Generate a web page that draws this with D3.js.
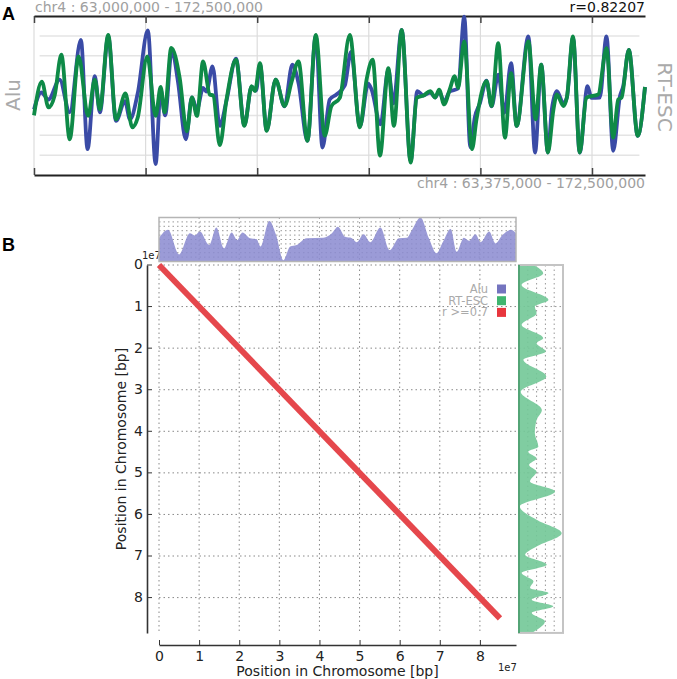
<!DOCTYPE html>
<html><head><meta charset="utf-8">
<script src="https://cdn.jsdelivr.net/npm/d3@7"></script>
<style>body{margin:0;background:#fff}svg{display:block;font-family:"DejaVu Sans",sans-serif}</style>
</head><body><div id="chart"></div>
<script>
// ---- panel A: smoothed tracks along chr4, [position Mb, z-score] ----
var ALU_TRACK = [[63.0,-0.7],[64.3,0.15],[65.6,-0.2],[67.6,0.8],[69.4,-0.85],[71.4,2.8],[72.6,-2.7],[73.9,0.97],[74.8,-0.85],[76.3,2.97],[77.7,-1.28],[79.3,-0.28],[80.2,-1.2],[81.6,0.13],[83.4,3.27],[84.8,-3.45],[85.7,0.3],[86.5,-1.0],[87.7,2.3],[88.8,0.7],[90.2,-2.2],[91.3,-0.1],[92.2,-0.7],[93.3,0.38],[93.9,0.2],[95.0,1.47],[96.3,-1.53],[97.5,-0.25],[99.2,1.85],[100.7,-1.5],[102.0,0.45],[102.8,0.25],[103.5,1.55],[104.7,-1.75],[106.3,0.8],[107.9,-0.55],[109.3,1.55],[110.4,0.63],[112.0,-2.28],[113.5,3.0],[114.7,-2.62],[116.0,-0.2],[117.2,0.05],[118.7,0.5],[119.8,2.2],[121.4,-1.55],[122.9,0.6],[123.5,0.3],[125.1,-1.45],[126.5,1.3],[127.4,-0.4],[128.9,3.3],[130.5,-3.3],[131.7,0.22],[132.8,0.0],[134.0,0.15],[134.9,-0.1],[135.6,0.2],[136.5,-0.3],[137.5,0.2],[139.0,0.35],[140.1,3.97],[141.2,-2.6],[142.0,-1.1],[142.9,-0.4],[144.1,0.75],[145.0,-0.55],[146.2,1.05],[147.3,-0.87],[148.5,1.63],[149.5,-1.53],[151.6,2.97],[152.8,-2.87],[153.9,1.55],[155.1,-2.87],[155.8,-0.7],[156.7,0.22],[157.9,-0.4],[158.5,-0.1],[159.6,2.9],[160.8,-2.87],[162.2,0.47],[162.9,-0.12],[164.4,-0.1],[165.6,2.97],[166.8,-2.78],[168.0,-0.05],[168.6,0.47],[169.6,2.3],[171.2,-2.03],[172.5,0.43]];
var RT_TRACK = [[63.0,-1.0],[64.4,0.7],[65.6,-0.6],[66.7,0.0],[67.9,2.05],[69.4,-2.2],[71.0,1.97],[72.7,-1.03],[73.9,0.8],[74.8,-0.7],[76.3,3.05],[77.7,-1.2],[79.4,0.1],[80.6,-1.6],[81.6,-1.1],[83.3,1.97],[84.8,-1.03],[85.7,0.43],[86.4,-0.85],[87.6,2.4],[89.1,0.9],[90.4,-1.8],[91.3,-0.1],[92.2,-1.03],[93.3,1.72],[94.5,0.05],[95.1,0.0],[96.3,-2.5],[97.5,-0.2],[99.2,1.8],[100.7,-1.53],[102.0,0.47],[102.6,0.22],[103.5,1.63],[104.7,-1.78],[106.3,0.8],[107.9,-0.53],[109.2,0.72],[110.4,1.72],[112.0,-2.28],[113.5,3.05],[115.1,-2.03],[116.3,-0.53],[117.8,-0.12],[119.6,3.05],[121.4,-1.6],[122.6,0.8],[123.7,1.8],[125.0,-3.03],[126.5,1.38],[127.5,-1.53],[128.9,3.3],[130.5,-3.37],[131.6,-0.12],[132.8,0.0],[134.0,0.22],[134.9,-0.1],[135.6,0.3],[136.5,-0.45],[137.5,0.3],[138.4,0.97],[139.0,0.38],[140.1,2.72],[141.5,-2.7],[142.3,-1.2],[144.1,0.72],[145.0,-0.53],[146.2,2.63],[147.4,-2.12],[148.5,1.13],[149.5,-1.53],[151.6,2.72],[152.9,-1.2],[153.9,1.55],[155.1,-2.87],[156.1,-0.7],[156.7,0.05],[157.9,-0.53],[158.5,-0.1],[159.6,2.97],[160.8,-2.87],[162.0,-0.12],[162.9,-0.03],[164.1,0.05],[165.6,2.38],[166.8,-2.12],[167.7,-0.2],[168.3,-0.1],[169.6,2.3],[171.2,-2.03],[172.5,0.43]];
var TRACK_TICKS = [63, 83, 103, 123, 143, 163];
var TRACK_LEVELS = [-3, -2, -1, 0, 1, 2, 3];
var TRACK_TEXT = { top: "chr4 : 63,000,000 - 172,500,000", bottom: "chr4 : 63,375,000 - 172,500,000", r: "r=0.82207" };

// ---- panel B: marginal profiles, [position (x1e7 bp), relative density] ----
var ALU_PROFILE = [[0.00,0.53],[0.225,0.72],[0.50,0.16],[0.77,0.64],[0.89,0.59],[1.02,0.68],[1.25,0.375],[1.43,0.77],[1.62,0.30],[1.81,0.66],[1.95,0.49],[2.08,0.66],[2.27,0.53],[2.43,0.51],[2.53,0.34],[2.75,0.92],[2.92,0.60],[3.10,0.03],[3.27,0.34],[3.43,0.375],[3.68,0.53],[4.10,0.54],[4.31,0.64],[4.46,0.79],[4.64,0.56],[4.81,0.53],[4.93,0.44],[5.10,0.62],[5.27,0.44],[5.52,0.77],[5.75,0.26],[5.98,0.53],[6.18,0.54],[6.31,0.72],[6.52,1.0],[6.73,0.53],[6.92,0.19],[7.08,0.45],[7.27,0.74],[7.42,0.22],[7.60,0.54],[7.73,0.47],[7.89,0.62],[8.02,0.44],[8.23,0.68],[8.39,0.41],[8.56,0.60],[8.77,0.72],[8.9,0.64]];
var RT_PROFILE = [[0.00,0.33],[0.20,0.55],[0.48,0.06],[0.84,0.67],[1.00,0.36],[1.16,0.40],[1.44,0.06],[1.76,0.55],[1.88,0.40],[2.08,0.61],[2.28,0.10],[2.68,0.62],[3.05,0.04],[3.49,0.52],[3.73,0.40],[4.05,0.36],[4.37,0.44],[4.49,0.21],[4.65,0.40],[4.81,0.23],[4.97,0.40],[5.21,0.25],[5.45,0.82],[5.81,0.02],[6.13,0.40],[6.45,0.97],[6.77,0.40],[6.97,0.14],[7.21,0.63],[7.41,0.06],[7.61,0.33],[7.77,0.25],[7.89,0.67],[8.05,0.29],[8.21,0.78],[8.37,0.29],[8.57,0.59],[8.85,0.29]];
var POS_TICKS = [0, 1, 2, 3, 4, 5, 6, 7, 8];
var CORR_SEGMENT = [[0, 0], [8.5, 8.5]];
var LEGEND = [{ name: "Alu", color: "#7474bf" }, { name: "RT-ESC", color: "#3fb56f" }, { name: "r >=0.7", color: "#e8363d" }];

var BLUE = "#3a4ba6", GREEN = "#0e8a47", RED = "#e5474c", GREY = "#a0a0a0", DARK = "#222";

var svg = d3.select("#chart").append("svg").attr("width", 677).attr("height", 679);

// ================= panel A =================
var xA = d3.scaleLinear().domain([63, 172.5]).range([34, 645]);
var yA = d3.scaleLinear().domain([-4, 4]).range([175, 16]);
var gA = svg.append("g");
gA.selectAll(".hg").data(TRACK_LEVELS).enter().append("line")
  .attr("x1", xA(64)).attr("x2", xA(171.5))
  .attr("y1", function (d) { return yA(d); }).attr("y2", function (d) { return yA(d); })
  .attr("stroke", "#e4e4e4").attr("stroke-width", 1.5);
gA.selectAll(".vg").data(TRACK_TICKS).enter().append("line")
  .attr("x1", function (d) { return xA(d); }).attr("x2", function (d) { return xA(d); })
  .attr("y1", yA(4)).attr("y2", yA(-4)).attr("stroke", "#dcdcdc").attr("stroke-width", 1.2);
function frameAxis(axis, y) {
  var a = gA.append("g").attr("transform", "translate(0," + y + ")")
    .call(axis.tickValues(TRACK_TICKS).tickSize(-7).tickSizeOuter(0).tickFormat(""));
  a.select(".domain").attr("stroke", DARK).attr("stroke-width", 2.2);
  a.selectAll(".tick line").attr("stroke", "#444").attr("stroke-width", 1.5);
}
frameAxis(d3.axisBottom(xA), yA(-4));
frameAxis(d3.axisTop(xA), yA(4));
var lineA = d3.line().x(function (d) { return xA(d[0]); }).y(function (d) { return yA(d[1]); }).curve(d3.curveMonotoneX);
gA.append("path").attr("d", lineA(ALU_TRACK)).attr("fill", "none").attr("stroke", BLUE).attr("stroke-width", 3.8);
gA.append("path").attr("d", lineA(RT_TRACK)).attr("fill", "none").attr("stroke", GREEN).attr("stroke-width", 3.8);
gA.append("text").attr("x", 35).attr("y", 12).attr("fill", GREY).style("font-size", "14px").text(TRACK_TEXT.top);
gA.append("text").attr("x", 645).attr("y", 12).attr("text-anchor", "end").attr("fill", "#111").style("font-size", "14px").text(TRACK_TEXT.r);
gA.append("text").attr("x", 645).attr("y", 188).attr("text-anchor", "end").attr("fill", GREY).style("font-size", "14px").text(TRACK_TEXT.bottom);
gA.append("text").attr("transform", "translate(20,95) rotate(-90)").attr("text-anchor", "middle")
  .attr("fill", "#aaa").style("font-size", "20px").text("Alu");
gA.append("text").attr("transform", "translate(658,97) rotate(90)").attr("text-anchor", "middle")
  .attr("fill", "#aaa").style("font-size", "20px").text("RT-ESC");

// ================= panel B =================
var xB = d3.scaleLinear().domain([0, 8.9]).range([159, 516]);
var yB = d3.scaleLinear().domain([0, 8.9]).range([265, 635]);
var gB = svg.append("g");
var DOT = "1.5,3";
gB.selectAll(".bvg").data(POS_TICKS).enter().append("line")
  .attr("x1", function (d) { return xB(d); }).attr("x2", function (d) { return xB(d); })
  .attr("y1", yB(0)).attr("y2", yB(8.85)).attr("stroke", "#888").attr("stroke-dasharray", DOT);
gB.selectAll(".bhg").data(POS_TICKS).enter().append("line")
  .attr("x1", xB(0)).attr("x2", xB(8.9))
  .attr("y1", function (d) { return yB(d); }).attr("y2", function (d) { return yB(d); })
  .attr("stroke", "#888").attr("stroke-dasharray", DOT);

var ax = gB.append("g").attr("transform", "translate(0,645)")
  .call(d3.axisBottom(xB).tickValues(POS_TICKS).tickSize(-5).tickSizeOuter(0).tickPadding(6));
var ay = gB.append("g").attr("transform", "translate(147,0)")
  .call(d3.axisLeft(yB.copy().domain([0, 8.85]).range([265, 633])).tickValues(POS_TICKS).tickSize(-5).tickSizeOuter(0).tickPadding(4));
ay.selectAll(".tick").attr("transform", function (d) { return "translate(0," + yB(d) + ")"; });
[ax, ay].forEach(function (a) {
  a.select(".domain").attr("stroke", "#333").attr("stroke-width", 1.6);
  a.selectAll(".tick line").attr("stroke", "#333");
  a.selectAll("text").attr("fill", DARK).style("font-size", "14px").style("font-family", "DejaVu Sans");
});
gB.append("text").attr("x", 142).attr("y", 259).attr("fill", DARK).style("font-size", "10px").text("1e7");
gB.append("text").attr("x", 498).attr("y", 671).attr("fill", DARK).style("font-size", "10px").text("1e7");
gB.append("text").attr("x", (xB(0) + xB(8.9)) / 2).attr("y", 676).attr("text-anchor", "middle")
  .attr("fill", DARK).style("font-size", "14px").text("Position in Chromosome [bp]");
gB.append("text").attr("transform", "translate(126," + ((yB(0) + 633) / 2) + ") rotate(-90)").attr("text-anchor", "middle")
  .attr("fill", DARK).style("font-size", "14px").text("Position in Chromosome [bp]");

// diagonal of correlated windows
gB.append("path").attr("d", d3.line().x(function (d) { return xB(d[0]); }).y(function (d) { return yB(d[1]); })(CORR_SEGMENT))
  .attr("stroke", RED).attr("stroke-width", 6).attr("fill", "none");

// legend
LEGEND.forEach(function (d, i) {
  var yy = 293 + i * 11.7;
  gB.append("text").attr("x", 488).attr("y", yy).attr("text-anchor", "end")
    .attr("fill", "#aaa").style("font-size", "11.5px").text(d.name);
  gB.append("rect").attr("x", 497).attr("y", yy - 8.5).attr("width", 9).attr("height", 9).attr("fill", d.color);
});

// top marginal (Alu)
var yT = d3.scaleLinear().domain([0, 1]).range([261.5, 217.5]);
var gT = svg.append("g");
d3.range(1, 10).forEach(function (k) {
  gT.append("line").attr("x1", xB(0)).attr("x2", xB(8.9)).attr("y1", yT(k / 10)).attr("y2", yT(k / 10))
    .attr("stroke", "#999").attr("stroke-dasharray", DOT);
});
POS_TICKS.slice(1).forEach(function (t) {
  gT.append("line").attr("x1", xB(t)).attr("x2", xB(t)).attr("y1", yT(1)).attr("y2", yT(0))
    .attr("stroke", "#999").attr("stroke-dasharray", DOT);
});
gT.append("path").attr("d", d3.area().x(function (d) { return xB(d[0]); }).y0(yT(0)).y1(function (d) { return yT(d[1]); })
  .curve(d3.curveMonotoneX)(ALU_PROFILE)).attr("fill", "#8a8ad0").attr("fill-opacity", 0.85);
gT.append("rect").attr("x", xB(0)).attr("y", yT(1)).attr("width", xB(8.9) - xB(0)).attr("height", yT(0) - yT(1))
  .attr("fill", "none").attr("stroke", "#b5b5b5").attr("stroke-width", 1.5);

// right marginal (RT-ESC)
var xR = d3.scaleLinear().domain([0, 1]).range([519, 563]);
var gR = svg.append("g");
POS_TICKS.forEach(function (t) {
  gR.append("line").attr("x1", xR(0)).attr("x2", xR(1)).attr("y1", yB(t)).attr("y2", yB(t))
    .attr("stroke", "#999").attr("stroke-dasharray", DOT);
});
[0.2, 0.4, 0.6, 0.8].forEach(function (v) {
  gR.append("line").attr("x1", xR(v)).attr("x2", xR(v)).attr("y1", yB(0)).attr("y2", yB(8.85))
    .attr("stroke", "#999").attr("stroke-dasharray", DOT);
});
gR.append("path").attr("d", d3.area().y(function (d) { return yB(d[0]); }).x0(xR(0)).x1(function (d) { return xR(d[1]); })
  .curve(d3.curveMonotoneY)(RT_PROFILE)).attr("fill", "#72c897").attr("fill-opacity", 0.9);
gR.append("rect").attr("x", xR(0)).attr("y", yB(0)).attr("width", xR(1) - xR(0)).attr("height", yB(8.85) - yB(0))
  .attr("fill", "none").attr("stroke", "#c4c4c4").attr("stroke-width", 2);
gR.append("line").attr("x1", xR(0)).attr("x2", xR(0)).attr("y1", yB(0)).attr("y2", yB(8.85))
  .attr("stroke", "#2e9a5c").attr("stroke-width", 1.5);

// panel letters
svg.append("text").attr("x", 2).attr("y", 20).style("font-family", "Liberation Sans, Arial").style("font-weight", "bold").style("font-size", "18px").text("A");
svg.append("text").attr("x", 2).attr("y", 251).style("font-family", "Liberation Sans, Arial").style("font-weight", "bold").style("font-size", "18px").text("B");
</script></body></html>
